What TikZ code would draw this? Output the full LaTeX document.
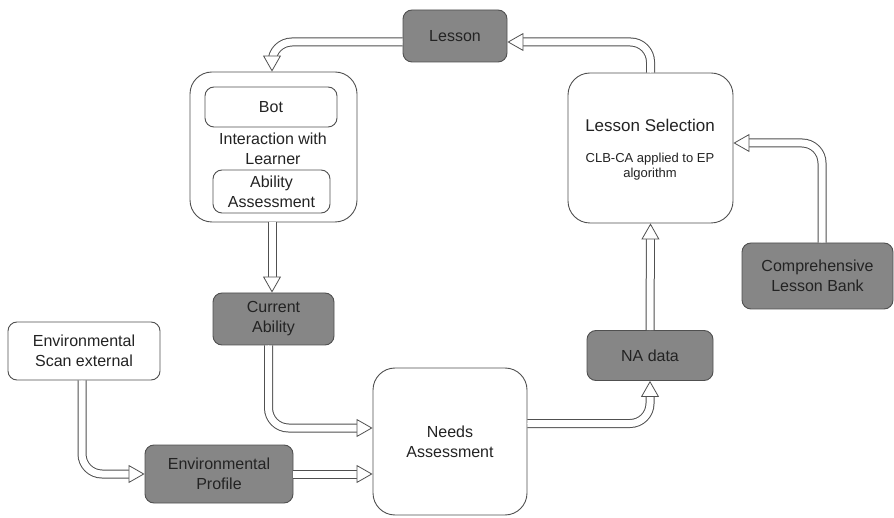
\documentclass[tikz,border=0pt]{standalone}
\usepackage{fontspec}
\setmainfont{Liberation Sans}
\usetikzlibrary{arrows.meta}
\definecolor{boxgray}{RGB}{134,134,134}
\definecolor{edgegray}{RGB}{80,80,80}
\definecolor{txtgray}{RGB}{35,35,35}
\tikzset{
  whitebox/.style={draw=edgegray, line width=0.9pt, fill=white, rounded corners=9pt, align=center, text=txtgray, font=\fontsize{16}{20}\selectfont, inner sep=0pt},
  graybox/.style={whitebox, fill=boxgray},
  bigbox/.style={whitebox, rounded corners=22pt},
  hollow/.style={rounded corners=20pt,
    preaction={draw=edgegray, line width=9pt, arrows=-, shorten >=14pt},
    preaction={draw=white, line width=7pt, arrows=-, shorten >=13pt},
    draw=white, line width=0.8pt,
    -{Triangle[length=16pt, width=18pt, color=edgegray, fill=white]}}
}
\begin{document}
\begin{tikzpicture}[x=1pt, y=-1pt]
        \useasboundingbox (0,0) rectangle (894,518);
        % boxes
        \node [graybox, minimum width=104, minimum height=52] (lesson) at (455,36) {Lesson};
        \node [bigbox, minimum width=167, minimum height=150] (interact) at (273.5,147) {};
        \node [whitebox, minimum width=132, minimum height=40] (bot) at (271,107) {Bot};
        \node [align=center, text=txtgray, font=\fontsize{16}{20}\selectfont] (interlabel) at (273,149) {Interaction with\\Learner};
        \node [whitebox, minimum width=117, minimum height=43] (ability) at (271.5,191.5) {Ability\\Assessment};
        \node [bigbox, minimum width=165, minimum height=150] (select) at (650.5,148) {};
        \node [text=txtgray, font=\fontsize{17}{20}\selectfont] (seltitle) at (650,125) {Lesson Selection};
        \node [align=center, text=txtgray, font=\fontsize{13}{15}\selectfont] (selsub) at (650,167) {CLB-CA applied to EP\\algorithm};
        \node [graybox, minimum width=151, minimum height=66] (bank) at (817.5,276) {Comprehensive\\Lesson Bank};
        \node [graybox, minimum width=126, minimum height=50] (nadata) at (650,355.5) {NA data};
        \node [graybox, minimum width=121, minimum height=52] (curab) at (273.5,319) {Current\\Ability};
        \node [whitebox, minimum width=152, minimum height=58] (envscan) at (84,351) {Environmental\\Scan external};
        \node [graybox, minimum width=148, minimum height=58] (envprof) at (219,474) {Environmental\\Profile};
        \node [bigbox, minimum width=154, minimum height=147] (needs) at (450,441.5) {Needs\\Assessment};
        % connectors
        \draw [hollow] (select.north) |- ([yshift=-6pt]lesson.east);
        \draw [hollow] ([yshift=-6pt]lesson.west) -| ([xshift=-1.5pt]interact.north);
        \draw [hollow] ([xshift=-1.5pt]interact.south) -- ([xshift=-1.5pt]curab.north);
        \draw [hollow] ([xshift=-5pt]curab.south) |- ([yshift=13.5pt]needs.west);
        \draw [hollow] ([xshift=-2pt]envscan.south) |- (envprof.west);
        \draw [hollow] (envprof.east) -- (envprof.east -| needs.west);
        \draw [hollow] ([yshift=18pt]needs.east) -| (nadata.south);
        \draw [hollow] (nadata.north) -- (select.south);
        \draw [hollow] ([xshift=4.5pt]bank.north) |- ([yshift=5pt]select.east);
\end{tikzpicture}
\end{document}
